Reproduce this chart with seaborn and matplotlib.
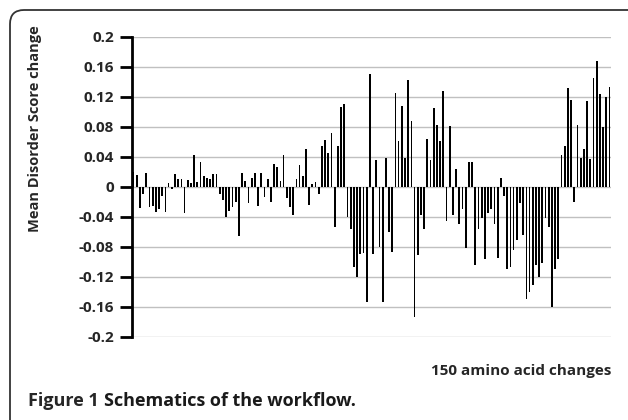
import numpy as np
import matplotlib
matplotlib.use("Agg")
import matplotlib.pyplot as plt
import matplotlib.patches as mpatches
from matplotlib.transforms import IdentityTransform
import seaborn as sns

# mean disorder score change for each of the 150 amino acid changes
seg_a = [0.020, 0.016, -0.028, -0.010, 0.019, -0.027, -0.025, -0.033, -0.030, -0.012,
         -0.033, 0.005, -0.003, 0.017, 0.010, 0.011, -0.035, 0.009, 0.005, 0.042,
         0.006, 0.033, 0.015]
seg_b = [0.012, 0.010, 0.017, 0.017, -0.010, -0.018, -0.040, -0.032, -0.027, -0.020,
         -0.065, 0.018, 0.008, -0.022, 0.012, 0.019, -0.026, 0.019, -0.013, 0.010,
         -0.020, 0.031, 0.027, 0.008, 0.042, -0.015]
seg_c = [-0.027, -0.038, 0.011, 0.029, 0.015, 0.051, -0.024, 0.004, 0.006, -0.010,
         0.055, 0.063, 0.045, 0.072, -0.053, 0.055, 0.107, 0.110, -0.040, -0.056,
         -0.107, -0.120, -0.089, -0.088, -0.153, 0.151, -0.090, 0.036]
seg_d = [-0.080, -0.153, 0.039, -0.060, -0.087, 0.125, 0.061, 0.108, 0.038, 0.142,
         0.088, -0.173, -0.091, -0.038, -0.056, 0.064, 0.036, 0.105, 0.082, 0.061,
         0.128, -0.046, 0.081, -0.037, 0.024, -0.049, -0.029]
seg_e = [-0.082, 0.033, 0.033, -0.104, -0.056, -0.042, -0.096, -0.035, -0.030, -0.050,
         -0.095, 0.012, -0.012, -0.109, -0.107, -0.084, -0.071, -0.022, -0.064, -0.149,
         -0.140, -0.131, -0.104, -0.120, -0.102, -0.042, -0.053, -0.160, -0.110, -0.096]
seg_f = [0.042, 0.054, 0.132, 0.116, -0.020, 0.082, 0.039, 0.051, 0.114, 0.037,
         0.145, 0.168, 0.124, 0.080, 0.120, 0.133]

scores = seg_a + seg_b + seg_c + seg_d + seg_e + seg_f
changes = list(range(len(scores)))

y_ticks = [0.2, 0.16, 0.12, 0.08, 0.04, 0, -0.04, -0.08, -0.12, -0.16, -0.2]
y_tick_labels = ["0.2", "0.16", "0.12", "0.08", "0.04", "0", "-0.04", "-0.08", "-0.12", "-0.16", "-0.2"]

sns.set_style("white")
plt.rcParams["font.family"] = ["Open Sans", "DejaVu Sans"]

fig = plt.figure(figsize=(6.28, 4.2), dpi=100)
ax = fig.add_axes([0.210, 0.198, 0.763, 0.714])

sns.barplot(x=changes, y=scores, color="black", width=0.55, ax=ax,
            saturation=1, linewidth=0)

ax.set_ylim(-0.2, 0.2)
ax.set_xlim(-0.5, len(scores) - 0.5)
ax.set_yticks(y_ticks)
ax.set_yticklabels(y_tick_labels, fontsize=11, fontweight="bold")
ax.set_xticks([])
ax.yaxis.grid(True, color="#c0c0c0", linewidth=1)
ax.set_axisbelow(True)

for s in ["top", "right", "bottom"]:
    ax.spines[s].set_visible(False)
ax.spines["left"].set_linewidth(2)
ax.spines["left"].set_color("black")
ax.tick_params(axis="y", direction="out", length=9, width=2, color="black", pad=4, left=True)

ax.set_xlabel("")
ax.set_ylabel("")
# axis title sits above the centre of the plot, as in the original
fig.text(0.055, 1 - 129 / 420, "Mean Disorder Score change", rotation=90,
         ha="center", va="center", fontsize=10.5, fontweight="bold")

fig.text(0.974, 1 - 371 / 420, "150 amino acid changes", ha="right", va="center",
         fontsize=11, fontweight="bold")

cap_y = 1 - 401 / 420
t1 = fig.text(0.045, cap_y, "Figure 1", ha="left", va="center", fontsize=13,
              fontweight="bold")
fig.canvas.draw()
bb = t1.get_window_extent()
fig.text((bb.x1 + 5) / fig.bbox.width, cap_y, "Schematics of the workflow.",
         ha="left", va="center", fontsize=13, fontweight="bold", color="#1a1a1a")

# rounded frame around the panel
frame = mpatches.FancyBboxPatch((10, -40), 660, 450,
                                boxstyle="round,pad=0,rounding_size=14",
                                transform=IdentityTransform(), fill=False,
                                edgecolor="#333333", linewidth=1.3)
fig.add_artist(frame)

fig.savefig("out.png", dpi=100)
